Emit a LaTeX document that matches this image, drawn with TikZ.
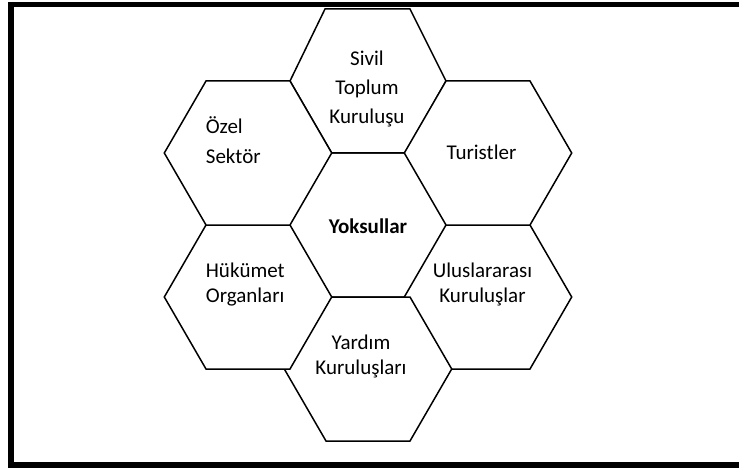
\documentclass[tikz,border=0pt]{standalone}
\usepackage{fontspec}
\setmainfont{Carlito}
\begin{document}
\begin{tikzpicture}[x=1pt,y=-1pt,
  hexa/.style={draw=black, line width=1.5pt, fill=white, line join=miter},
  hexpic/.pic={\path[hexa] (-83.7,0) -- (-42,-72) -- (42,-72) -- (83.7,0) -- (42,72) -- (-42,72) -- cycle;},
  lbl/.style={inner sep=0pt, font=\fontsize{21}{25}\selectfont},
  frameline/.style={draw=black, line width=5.6pt, line join=miter}]
\useasboundingbox (0,0) rectangle (739,468);
\clip (0,0) rectangle (739,468);
\path[frameline] (11,4.6) -- (800,4.6) -- (800,465) -- (11,465) -- cycle;
% hexagon centres
\coordinate (cYok) at (368,225);
\coordinate (cOzel) at (248,153);
\coordinate (cTur) at (488,153);
\coordinate (cHuk) at (248,297);
\coordinate (cUlus) at (488,297);
\coordinate (cYar) at (368,369);
% hexagons (drawn in overlap order)
\pic at (cYok) {hexpic};
\path[hexa] (290,81) -- (325,9) -- (410,9) -- (446,81) -- (405,153) -- (331.7,153) -- cycle;
\pic at (cUlus) {hexpic};
\pic at (cYar) {hexpic};
\pic at (cHuk) {hexpic};
\pic at (cOzel) {hexpic};
\pic at (cTur) {hexpic};
% labels (base anchor = baseline of last line)
\node[lbl, anchor=base, align=center, font=\fontsize{21}{29}\selectfont] (tSivil) at (367,124) {Sivil\\Toplum\\Kuruluşu};
\node[lbl, anchor=base west, align=left, font=\fontsize{21}{30}\selectfont] (tOzel) at (205.7,163.3) {Özel\\Sektör};
\node[lbl, anchor=base] (tTur) at (481.5,159.3) {Turistler};
\node[lbl, anchor=base, font=\fontsize{21}{25}\selectfont\bfseries] (tYok) at (368,233) {Yoksullar};
\node[lbl, anchor=base west, align=left] (tHuk) at (205.7,302.3) {Hükümet\\Organları};
\node[lbl, anchor=base, align=center] (tUlus) at (482.5,302.3) {Uluslararası\\Kuruluşlar};
\node[lbl, anchor=base, align=center] (tYar) at (361,374) {Yardım\\Kuruluşları};
\end{tikzpicture}
\end{document}
